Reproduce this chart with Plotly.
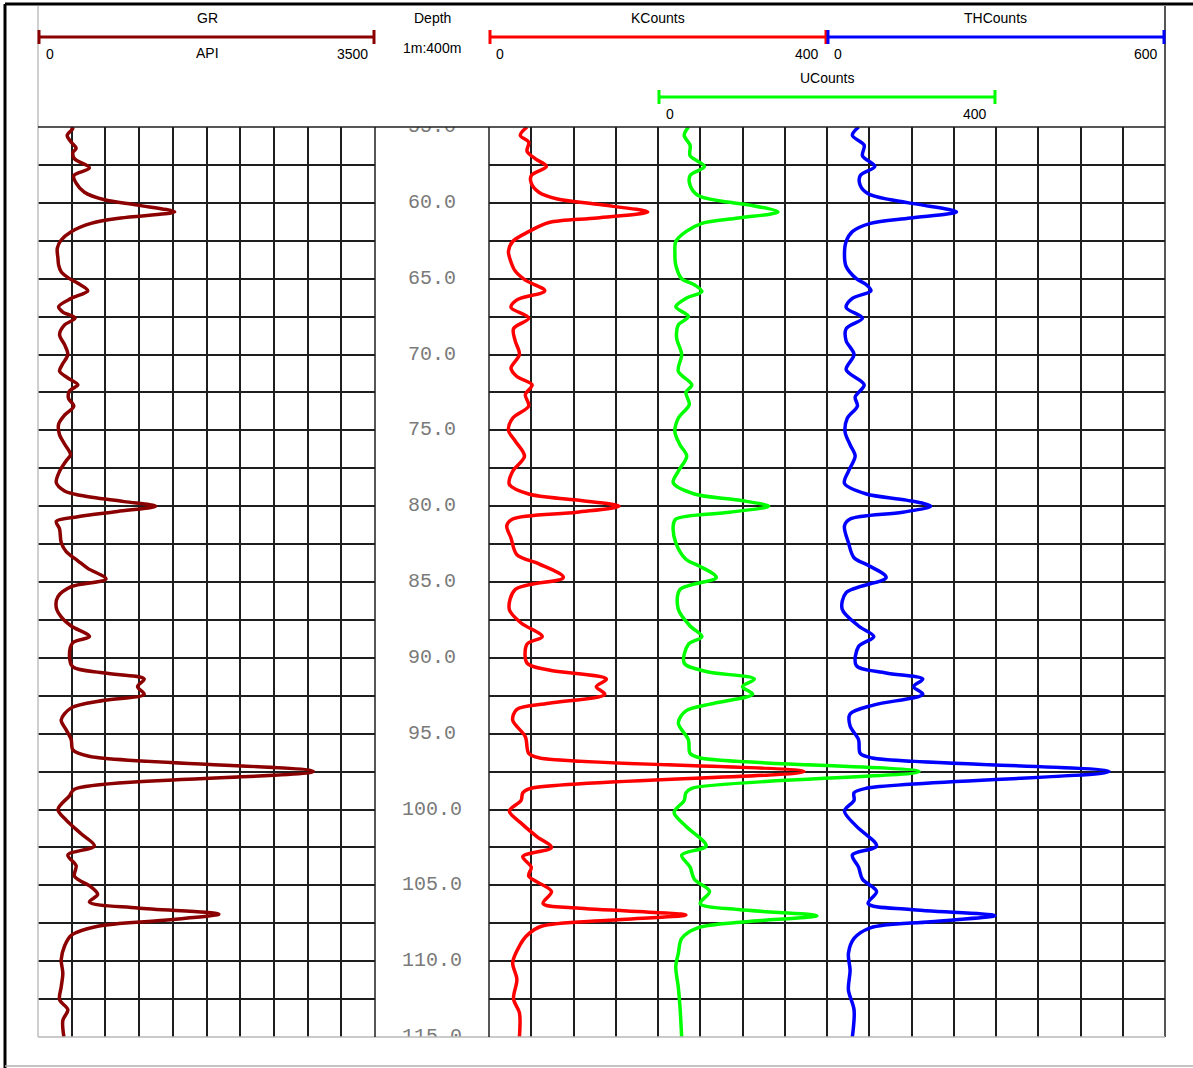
import plotly.graph_objects as go

W, H = 1193, 1068

# ---------------- data ----------------
gr_depth = [55.0, 55.1, 55.55, 56.0, 56.4, 56.7, 57.1, 57.7, 58.2, 58.7,
            59.3, 59.8, 60.15, 60.6, 61.0, 61.35, 61.9, 62.45, 63.0, 63.65,
            64.1, 64.55, 65.0, 65.3, 65.8, 66.3, 66.85, 67.2, 67.6, 68.05,
            68.7, 69.35, 70.0, 70.6, 71.1, 71.55, 72.0, 72.4, 72.9, 73.4,
            74.0, 74.6, 75.3, 75.9, 76.6, 77.0, 77.7, 78.45, 79.0, 79.3,
            79.7, 80.0, 80.35, 80.7, 81.0, 81.5, 82.4, 83.0, 83.6, 84.1,
            84.8, 85.3, 85.96, 86.7, 87.3, 87.9, 88.6, 89.0, 89.9, 90.6,
            91.0, 91.4, 91.9, 92.4, 92.8, 93.3, 94.1, 94.75, 95.4, 96.07,
            96.5, 97.5, 98.66, 99.1, 100.0, 100.7, 101.6, 102.4, 103.0, 103.7,
            104.4, 105.1, 105.6, 106.1, 106.5, 106.9, 107.3, 107.7, 108.3, 109.0,
            109.9, 110.8, 111.7, 112.55, 113.2, 113.9, 115.0]
gr_api = [340, 362, 303, 345, 396, 362, 380, 534, 372, 396,
          482, 690, 1034, 1420, 860, 551, 345, 241, 200, 207,
          214, 241, 327, 414, 517, 345, 214, 258, 386, 276,
          224, 276, 310, 258, 224, 310, 414, 327, 317, 372,
          276, 214, 224, 276, 338, 293, 224, 190, 276, 448,
          896, 1223, 827, 414, 190, 224, 241, 293, 414, 517,
          706, 345, 207, 190, 241, 345, 534, 362, 327, 362,
          690, 1103, 1034, 1103, 690, 345, 241, 293, 345, 362,
          540, 2860, 379, 327, 207, 293, 448, 586, 310, 396,
          379, 551, 620, 534, 1034, 1878, 1310, 620, 345, 276,
          241, 258, 241, 224, 310, 258, 269]

k_depth = [55.0, 55.55, 56.0, 56.6, 57.1, 57.6, 58.2, 58.7, 59.3, 59.75,
           60.1, 60.6, 61.0, 61.3, 61.9, 62.55, 63.2, 63.9, 64.5, 65.1,
           65.8, 66.4, 66.9, 67.6, 68.3, 69.1, 70.0, 70.9, 71.45, 72.0,
           72.65, 73.4, 74.2, 75.0, 75.7, 76.7, 77.7, 78.55, 79.2, 79.6,
           80.0, 80.4, 80.85, 81.3, 82.1, 83.2, 83.8, 84.7, 85.5, 86.8,
           87.7, 88.6, 89.1, 90.35, 90.8, 91.4, 91.9, 92.4, 93.0, 93.4,
           94.1, 95.2, 96.3, 96.6, 97.5, 98.6, 98.9, 99.4, 100.1, 100.9,
           101.8, 102.5, 103.1, 103.8, 104.4, 105.4, 106.2, 106.5, 106.95, 107.3,
           107.7, 108.3, 109.0, 110.1, 111.2, 112.5, 113.4, 115.0]
k_counts = [45, 37, 47, 45, 55, 68, 50, 50, 59, 81,
            128, 188, 128, 71, 47, 28, 23, 26, 31, 43,
            66, 33, 26, 47, 29, 31, 36, 26, 33, 51,
            43, 47, 28, 23, 31, 42, 28, 24, 47, 104,
            154, 104, 28, 21, 26, 33, 59, 88, 31, 24,
            38, 63, 45, 45, 71, 139, 127, 137, 71, 33,
            28, 43, 47, 60, 373, 50, 40, 38, 24, 38,
            57, 74, 40, 50, 47, 74, 64, 104, 233, 142,
            62, 45, 36, 28, 33, 29, 36, 36]

u_depth = [55.0, 55.55, 56.2, 56.9, 57.6, 58.2, 58.85, 59.5, 59.9, 60.15,
           60.6, 61.0, 61.35, 61.9, 62.55, 63.3, 64.1, 65.0, 65.4, 65.85,
           66.3, 66.85, 67.5, 68.05, 68.9, 70.0, 71.1, 72.0, 72.5, 73.3,
           74.2, 75.1, 75.95, 76.7, 77.7, 78.45, 79.2, 79.6, 80.0, 80.4,
           80.85, 81.3, 82.4, 83.5, 83.9, 84.7, 85.5, 86.8, 87.9, 88.6,
           89.1, 90.35, 90.9, 91.4, 91.9, 92.4, 93.0, 93.5, 94.3, 95.4,
           96.3, 96.6, 97.5, 98.6, 98.9, 99.4, 100.2, 101.1,
           102.4, 103.0, 103.8, 104.6, 105.4, 106.2, 106.6, 107.0, 107.4, 107.8,
           108.5, 109.5, 110.35, 111.7, 113.0, 115.0]
u_counts = [36, 31, 38, 38, 55, 38, 38, 47, 76, 109,
            142, 95, 52, 33, 21, 20, 21, 28, 43, 52,
            33, 21, 36, 24, 22, 28, 24, 40, 33, 37,
            24, 20, 26, 34, 24, 18, 43, 95, 131, 85,
            21, 18, 21, 33, 47, 69, 26, 24, 38, 52,
            36, 31, 57, 114, 100, 112, 66, 33, 24, 36,
            38, 50, 309, 40, 33, 31, 19, 33,
            57, 28, 38, 43, 61, 50, 95, 188, 104, 47,
            28, 24, 21, 24, 26, 28]

th_depth = [55.0, 55.55, 56.2, 56.9, 57.6, 58.2, 58.85, 59.4, 59.8, 60.15,
            60.6, 61.0, 61.35, 61.9, 62.55, 63.4, 64.2, 65.0, 65.4, 65.8,
            66.3, 66.9, 67.6, 68.3, 69.1, 70.0, 71.0, 72.0, 72.8, 73.4,
            74.2, 75.1, 75.95, 76.7, 77.7, 78.5, 79.2, 79.6, 80.0, 80.4,
            80.85, 81.3, 82.4, 83.4, 83.9, 84.7, 85.7, 86.8, 87.9, 88.6,
            89.25, 90.5, 91.0, 91.4, 91.9, 92.4, 93.1, 93.7, 94.5, 95.4,
            96.3, 96.6, 97.5, 98.6, 98.9, 99.4, 100.1, 101.1,
            102.4, 103.0, 103.8, 104.6, 105.4, 106.2, 106.6, 107.0, 107.4, 107.8,
            108.5, 109.5, 110.6, 111.9, 113.2, 115.0]
th_counts = [56, 45, 66, 63, 85, 59, 59, 73, 113, 170,
             230, 148, 77, 45, 34, 31, 34, 52, 70, 78,
             45, 34, 63, 34, 34, 48, 34, 66, 50, 54,
             36, 32, 41, 50, 38, 31, 70, 141, 184, 134,
             41, 31, 38, 48, 73, 105, 34, 27, 56, 83,
             56, 52, 105, 170, 154, 170, 84, 41, 41, 56,
             59, 80, 501, 70, 48, 48, 31, 52,
             88, 45, 56, 63, 88, 73, 148, 298, 184, 77,
             48, 38, 41, 38, 48, 45]

depth_labels = [55, 60, 65, 70, 75, 80, 85, 90, 95, 100, 105, 110, 115]

# ---------------- layout helpers ----------------
def px(x):
    return x / W

def py(y):
    return 1 - y / H

Y_TOP, Y_BOT = 127, 1037
ydom = [py(Y_BOT), py(Y_TOP)]
GRID = "#1e1e1e"

fig = go.Figure()

line_kw = dict(shape="spline", smoothing=0.9, width=3.5)
fig.add_trace(go.Scatter(x=gr_api, y=gr_depth, mode="lines", xaxis="x", yaxis="y",
                         line=dict(color="#8B0000", **line_kw), hoverinfo="skip"))
fig.add_trace(go.Scatter(x=[0.5] * len(depth_labels), y=depth_labels, mode="text",
                         text=[f"{d:.1f}" for d in depth_labels], xaxis="x2", yaxis="y2",
                         textposition="middle center", cliponaxis=True,
                         textfont=dict(family="Liberation Mono, Courier New, monospace",
                                       size=20, color="#7a7a7a"), hoverinfo="skip"))
fig.add_trace(go.Scatter(x=k_counts, y=k_depth, mode="lines", xaxis="x3", yaxis="y3",
                         line=dict(color="#FF0000", **line_kw), hoverinfo="skip"))
fig.add_trace(go.Scatter(x=u_counts, y=u_depth, mode="lines", xaxis="x4", yaxis="y3",
                         line=dict(color="#00FF00", **line_kw), hoverinfo="skip"))
fig.add_trace(go.Scatter(x=th_counts, y=th_depth, mode="lines", xaxis="x5", yaxis="y3",
                         line=dict(color="#0000FF", **line_kw), hoverinfo="skip"))

ygrid = [55 + 2.5 * i for i in range(1, 24)]
yax = dict(domain=ydom, range=[115, 55], tickmode="array", tickvals=ygrid,
           showticklabels=False, ticks="", zeroline=False, showline=False,
           gridcolor=GRID, gridwidth=1.5)

fig.update_layout(
    width=W, height=H, margin=dict(l=0, r=0, t=0, b=0),
    paper_bgcolor="white", plot_bgcolor="white", showlegend=False,
    xaxis=dict(domain=[px(38), px(375)], range=[0, 3500], anchor="y",
               tickmode="array", tickvals=[350 * i for i in range(1, 10)],
               showticklabels=False, ticks="", zeroline=False,
               gridcolor=GRID, gridwidth=1.5),
    yaxis=dict(anchor="x", showgrid=True, **yax),
    xaxis2=dict(domain=[px(375), px(489)], range=[0, 1], anchor="y2",
                showgrid=False, showticklabels=False, zeroline=False, ticks=""),
    yaxis2=dict(anchor="x2", showgrid=False, **{k: v for k, v in yax.items() if k not in ("gridcolor", "gridwidth")}),
    xaxis3=dict(domain=[px(489), px(1165)], range=[0, 800], anchor="y3",
                tickmode="array", tickvals=[50 * i for i in range(1, 16)],
                showticklabels=False, ticks="", zeroline=False,
                gridcolor=GRID, gridwidth=1.5),
    yaxis3=dict(anchor="x3", showgrid=True, **yax),
    xaxis4=dict(overlaying="x3", range=[-200, 600], anchor="y3", visible=False),
    xaxis5=dict(overlaying="x3", range=[-600, 600], anchor="y3", visible=False),
)

shapes = []

def seg(x0, y0, x1, y1, color, width):
    shapes.append(dict(type="line", xref="paper", yref="paper",
                       x0=px(x0), y0=py(y0), x1=px(x1), y1=py(y1),
                       line=dict(color=color, width=width)))

# outer frame
seg(5, 4, W, 4, "black", 3)
seg(5, 4, 5, H, "black", 3)
seg(5, 1066, W, 1066, "#b0b0b0", 1.5)
# header / track borders
seg(38, 6, 38, Y_BOT, "#c0c0c0", 1.5)
seg(1165, 6, 1165, Y_BOT, GRID, 1.5)
seg(38, Y_TOP, 1165, Y_TOP, GRID, 1.5)
seg(38, Y_BOT, 1165, Y_BOT, "#b8b8b8", 1.5)
seg(375, Y_TOP, 375, Y_BOT, GRID, 1.5)
seg(489, Y_TOP, 489, Y_BOT, GRID, 1.5)

# scale bars
def scale_bar(x0, x1, y, color):
    seg(x0, y, x1, y, color, 3)
    seg(x0, y - 7, x0, y + 7, color, 3)
    seg(x1, y - 7, x1, y + 7, color, 3)

scale_bar(39, 374, 37, "#8B0000")
scale_bar(490, 826, 37, "#FF0000")
scale_bar(828, 1164, 37, "#0000FF")
scale_bar(659, 995, 97, "#00FF00")

fig.update_layout(shapes=shapes)

ann = []

def text(x, y, s, anchor="center"):
    ann.append(dict(x=px(x), y=py(y), xref="paper", yref="paper", text=s,
                    showarrow=False, xanchor=anchor, yanchor="middle",
                    font=dict(family="Liberation Sans, Arial, sans-serif", size=14, color="black")))

text(207, 18, "GR")
text(44, 54, "0", "left")
text(207, 53, "API")
text(370, 54, "3500", "right")
text(432, 18, "Depth")
text(432, 48, "1m:400m")
text(658, 18, "KCounts")
text(494, 54, "0", "left")
text(821, 54, "400", "right")
text(832, 54, "0", "left")
text(1160, 54, "600", "right")
text(995, 18, "THCounts")
text(827, 78, "UCounts")
text(664, 114, "0", "left")
text(989, 114, "400", "right")

fig.update_layout(annotations=ann)

fig.write_html("out.html", config={"displayModeBar": False},
               post_script="document.body.style.margin='0';")
